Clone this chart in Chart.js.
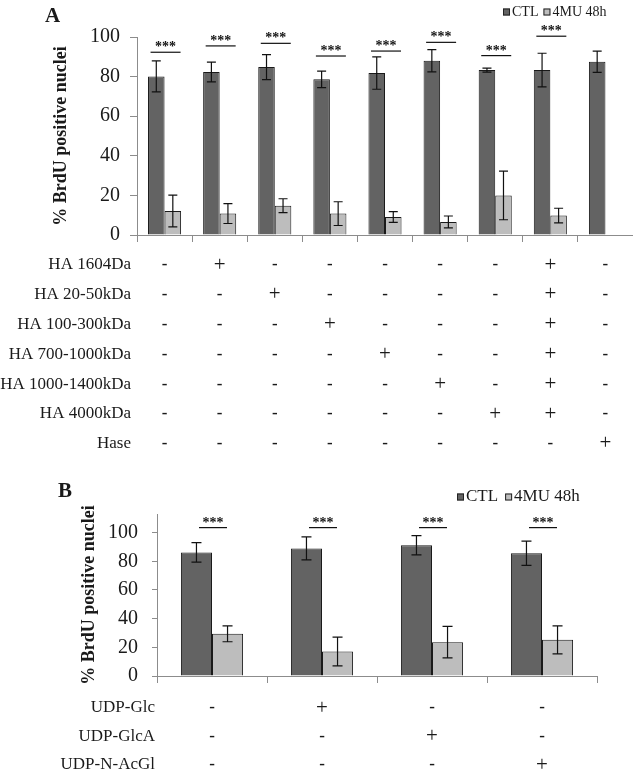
<!DOCTYPE html>
<html lang="en">
<head>
    <meta charset="UTF-8">
    <title>BrdU positive nuclei</title>
    <script src="https://cdn.jsdelivr.net/npm/chart.js"></script>
    <style>
        body {
            margin: 0;
            background: #fff;
        }
        .panel {
            position: absolute;
            left: 0;
        }
        #panelA { top: 0; }
        #panelB { top: 470px; }
    </style>
</head>
<body>
    <div class="panel" id="panelA"><canvas id="chartA" width="633" height="470"></canvas></div>
    <div class="panel" id="panelB"><canvas id="chartB" width="633" height="304"></canvas></div>

    <script>
        const seriesNames = ['CTL', '4MU 48h'];

        // panel A
        const columnsA = ['none', 'HA 1604Da', 'HA 20-50kDa', 'HA 100-300kDa', 'HA 700-1000kDa',
                          'HA 1000-1400kDa', 'HA 4000kDa', 'all HA', 'Hase'];
        const ctlA = [80.1, 82.3, 84.8, 78.6, 81.8, 88.0, 83.3, 83.3, 87.5];
        const ctlErrA = [7.8, 5.0, 6.3, 4.2, 8.2, 5.6, 1.0, 8.5, 5.4];
        const muA = [12.1, 10.8, 14.8, 10.8, 9.1, 6.6, 20.0, 9.8, null];
        const muErrA = [8.0, 5.0, 3.5, 6.0, 2.7, 3.0, 12.3, 3.7, null];
        const sigA = [92.3, 95.5, 96.8, 90.4, 92.9, 97.3, 90.6, 100.4, null];
        const yTicksA = [0, 20, 40, 60, 80, 100];
        const rowLabelsA = ['HA 1604Da', 'HA 20-50kDa', 'HA 100-300kDa', 'HA 700-1000kDa',
                            'HA 1000-1400kDa', 'HA 4000kDa', 'Hase'];
        const marksA = ['-+-----+-', '--+----+-', '---+---+-', '----+--+-',
                        '-----+-+-', '------++-', '--------+'];

        // panel B
        const columnsB = ['none', 'UDP-Glc', 'UDP-GlcA', 'UDP-N-AcGl'];
        const ctlB = [86.2, 89.0, 91.2, 85.6];
        const ctlErrB = [6.8, 8.0, 6.7, 8.5];
        const muB = [29.4, 17.1, 23.6, 25.2];
        const muErrB = [5.5, 10.0, 11.0, 9.8];
        const sigB = [103.5, 103.5, 103.5, 103.5];
        const yTicksB = [0, 20, 40, 60, 80, 100];
        const rowLabelsB = ['UDP-Glc', 'UDP-GlcA', 'UDP-N-AcGl'];
        const marksB = ['-+--', '--+-', '---+'];

        const SERIF = "'Liberation Serif', 'Times New Roman', serif";
        const INK = '#1a1a1a';
        const AXIS = '#8c8c8c';
        const CTL_COLOR = '#636363';
        const MU_COLOR = '#bdbdbd';

        Chart.defaults.font.family = SERIF;
        Chart.defaults.color = INK;

        // error bars, significance marks, panel letter, legend and the +/- table
        const extras = {
            id: 'extras',
            afterDatasetsDraw(chart, args, o) {
                const ctx = chart.ctx, x = chart.scales.x, y = chart.scales.y;
                ctx.save();
                ctx.strokeStyle = '#111';
                ctx.lineWidth = 1.2;
                chart.data.datasets.forEach((ds, d) => {
                    chart.getDatasetMeta(d).data.forEach((bar, i) => {
                        const v = ds.data[i], e = o.errors[d][i];
                        if (v == null || e == null) return;
                        const top = y.getPixelForValue(v + e), bot = y.getPixelForValue(v - e);
                        ctx.beginPath();
                        ctx.moveTo(bar.x, top); ctx.lineTo(bar.x, bot);
                        ctx.moveTo(bar.x - o.cap, top); ctx.lineTo(bar.x + o.cap, top);
                        ctx.moveTo(bar.x - o.cap, bot); ctx.lineTo(bar.x + o.cap, bot);
                        ctx.stroke();
                    });
                });
                ctx.fillStyle = '#111';
                ctx.font = 'bold 14px ' + SERIF;
                ctx.textAlign = 'center';
                ctx.textBaseline = 'alphabetic';
                o.sig.forEach((s, i) => {
                    if (s == null) return;
                    const cx = x.getPixelForValue(i) + 1, sy = y.getPixelForValue(s);
                    ctx.beginPath();
                    ctx.moveTo(cx - o.sigHalf, sy); ctx.lineTo(cx + o.sigHalf, sy);
                    ctx.stroke();
                    ctx.fillText('***', cx, sy - 1);
                });
                ctx.restore();
            },
            afterDraw(chart, args, o) {
                const ctx = chart.ctx, x = chart.scales.x;
                ctx.save();
                ctx.fillStyle = INK;
                ctx.textAlign = 'left';
                ctx.textBaseline = 'alphabetic';
                ctx.font = 'bold 21px ' + SERIF;
                ctx.fillText(o.letter, o.letterX, o.letterY);

                // legend
                ctx.font = o.legendFont + 'px ' + SERIF;
                ctx.textBaseline = 'middle';
                let lx = o.legendX;
                chart.data.datasets.forEach(ds => {
                    ctx.fillStyle = ds.backgroundColor;
                    ctx.fillRect(lx, o.legendY - 3.5, 7, 7);
                    ctx.strokeStyle = '#222';
                    ctx.lineWidth = 1;
                    ctx.strokeRect(lx + 0.5, o.legendY - 3, 6, 6);
                    ctx.fillStyle = INK;
                    ctx.fillText(ds.label, lx + 9, o.legendY);
                    lx += 9 + ctx.measureText(ds.label).width + o.legendGap;
                });

                // condition table under the axis
                o.rows.forEach((label, r) => {
                    const ry = o.rowY + r * o.rowStep;
                    ctx.font = '17px ' + SERIF;
                    ctx.textAlign = 'right';
                    ctx.fillText(label, o.rowRight, ry);
                    ctx.textAlign = 'center';
                    for (let c = 0; c < o.marks[r].length; c++) {
                        const m = o.marks[r][c];
                        ctx.font = m === '+' ? '21px ' + SERIF : 'bold 17px ' + SERIF;
                        ctx.fillText(m, x.getPixelForValue(c), ry);
                    }
                });
                ctx.restore();
            }
        };

        function makeChart(id, p) {
            return new Chart(document.getElementById(id), {
                type: 'bar',
                data: {
                    labels: p.columns,
                    datasets: [
                        { label: seriesNames[0], data: p.ctl, backgroundColor: CTL_COLOR,
                          borderColor: INK, borderWidth: 1,
                          categoryPercentage: p.catPct, barPercentage: 1 },
                        { label: seriesNames[1], data: p.mu, backgroundColor: MU_COLOR,
                          borderColor: INK, borderWidth: 1,
                          categoryPercentage: p.catPct, barPercentage: 1 }
                    ]
                },
                options: {
                    responsive: false,
                    animation: false,
                    devicePixelRatio: 1,
                    layout: { padding: { top: p.padTop, right: p.padRight, bottom: 0, left: 0 } },
                    plugins: {
                        legend: { display: false },
                        tooltip: { enabled: false },
                        extras: p.extras
                    },
                    scales: {
                        x: {
                            offset: true,
                            grid: { display: true, drawOnChartArea: false, offset: true,
                                    tickLength: 7, color: AXIS },
                            border: { color: AXIS },
                            ticks: { display: false },
                            afterFit: s => { s.height = p.xHeight; }
                        },
                        y: {
                            min: 0,
                            max: p.yMax,
                            afterBuildTicks: s => { s.ticks = p.yTicks.map(v => ({ value: v })); },
                            ticks: { font: { size: 20 }, color: INK, padding: p.tickPad },
                            grid: { drawOnChartArea: false, tickLength: p.tickLen, color: AXIS },
                            border: { color: AXIS },
                            title: {
                                display: true,
                                text: '% BrdU positive nuclei',
                                font: { size: 18, weight: 'bold' },
                                color: INK,
                                padding: { top: p.titlePad, bottom: 0 }
                            },
                            afterFit: s => { s.width = p.yWidth; }
                        }
                    }
                },
                plugins: [extras]
            });
        }

        makeChart('chartA', {
            columns: columnsA, ctl: ctlA, mu: muA, catPct: 0.6,
            padTop: 37, padRight: 0, xHeight: 235, yMax: 100, yTicks: yTicksA,
            tickPad: 10, tickLen: 7, titlePad: 51, yWidth: 137,
            extras: {
                errors: [ctlErrA, muErrA], cap: 4.5, sig: sigA, sigHalf: 15,
                letter: 'A', letterX: 45, letterY: 22,
                legendX: 503, legendY: 12, legendFont: 14, legendGap: 5,
                rows: rowLabelsA, marks: marksA, rowY: 265, rowStep: 29.8, rowRight: 131
            }
        });

        makeChart('chartB', {
            columns: columnsB, ctl: ctlB, mu: muB, catPct: 0.565,
            padTop: 44, padRight: 36, xHeight: 98, yMax: 113, yTicks: yTicksB,
            tickPad: 14, tickLen: 5, titlePad: 79, yWidth: 157,
            extras: {
                errors: [ctlErrB, muErrB], cap: 5, sig: sigB, sigHalf: 14,
                letter: 'B', letterX: 58, letterY: 27,
                legendX: 457, legendY: 27, legendFont: 17, legendGap: 7,
                rows: rowLabelsB, marks: marksB, rowY: 238, rowStep: 28.5, rowRight: 155
            }
        });
    </script>
</body>
</html>
